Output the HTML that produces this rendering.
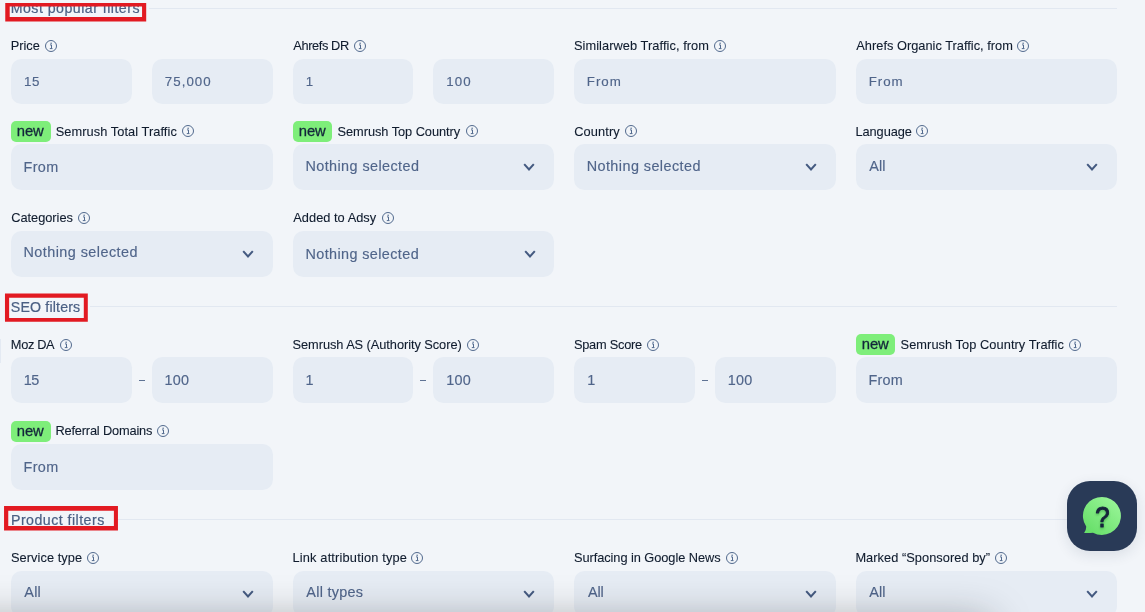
<!DOCTYPE html>
<html lang="en"><head><meta charset="utf-8"><title>Filters</title>
<style>
html,body{margin:0;padding:0;background:#f2f5f9}
html{overflow:hidden}
#root{width:1145px;height:612px;overflow:hidden;background:#f2f5f9;position:relative;font-family:"Liberation Sans",Arial,sans-serif}
span{position:absolute;line-height:20px;white-space:nowrap}
.lab{font-size:12.8px;color:#101c2e;-webkit-text-stroke:0.1px #101c2e}
.val{font-size:14.4px;color:#50658a;-webkit-text-stroke:0.15px #50658a}
.sm{font-size:13.3px}
.head{font-size:14.2px;color:#4b6084;-webkit-text-stroke:0.2px #4b6084}
.hc{clip-path:inset(6px 0 0 0)}
.newt{font-size:14.8px;color:#13263b;-webkit-text-stroke:0.3px #13263b}
.new{position:absolute;border-radius:5px;background:#7eee7a}
.box{position:absolute;background:#e6ecf4;border-radius:10.5px}
.red{position:absolute;box-sizing:border-box;border:4px solid #e21a22}
.line{position:absolute;height:1px;background:#e2e8f1}
.a{position:absolute;display:block}
.dash{position:absolute;width:6px;height:1.2px;background:#5f7394}
.fade{position:absolute;left:-80px;top:620px;width:1070px;height:60px;box-shadow:0 0 40px rgba(25,30,32,0.38)}
.help{position:absolute;left:1067px;top:481px;width:70px;height:70px;border-radius:23px;background:#293a57;box-shadow:0 4px 14px rgba(30,45,70,0.11)}
</style></head><body><div id="root">
<div class="line" style="left:149px;top:7.95px;width:968px"></div>
<svg class="a" style="left:44px;top:38.7px" width="14" height="14" viewBox="0 0 14 14"><circle cx="7" cy="7" r="5.5" fill="none" stroke="#526a8e" stroke-width="1"/><path d="M6 5.9h1.5v3.6M5.8 9.6h2.7" fill="none" stroke="#526a8e" stroke-width="1"/><circle cx="7.1" cy="4.2" r="0.75" fill="#526a8e"/></svg>
<svg class="a" style="left:353px;top:38.7px" width="14" height="14" viewBox="0 0 14 14"><circle cx="7" cy="7" r="5.5" fill="none" stroke="#526a8e" stroke-width="1"/><path d="M6 5.9h1.5v3.6M5.8 9.6h2.7" fill="none" stroke="#526a8e" stroke-width="1"/><circle cx="7.1" cy="4.2" r="0.75" fill="#526a8e"/></svg>
<svg class="a" style="left:713px;top:38.7px" width="14" height="14" viewBox="0 0 14 14"><circle cx="7" cy="7" r="5.5" fill="none" stroke="#526a8e" stroke-width="1"/><path d="M6 5.9h1.5v3.6M5.8 9.6h2.7" fill="none" stroke="#526a8e" stroke-width="1"/><circle cx="7.1" cy="4.2" r="0.75" fill="#526a8e"/></svg>
<svg class="a" style="left:1016px;top:38.7px" width="14" height="14" viewBox="0 0 14 14"><circle cx="7" cy="7" r="5.5" fill="none" stroke="#526a8e" stroke-width="1"/><path d="M6 5.9h1.5v3.6M5.8 9.6h2.7" fill="none" stroke="#526a8e" stroke-width="1"/><circle cx="7.1" cy="4.2" r="0.75" fill="#526a8e"/></svg>
<div class="box" style="left:11px;top:59px;width:121px;height:45px"></div>
<div class="box" style="left:152px;top:59px;width:121px;height:45px"></div>
<div class="box" style="left:292.75px;top:59px;width:120.5px;height:45px"></div>
<div class="box" style="left:433.25px;top:59px;width:121px;height:45px"></div>
<div class="box" style="left:574px;top:59px;width:262px;height:45px"></div>
<div class="box" style="left:855.75px;top:59px;width:261.5px;height:45px"></div>
<div class="new" style="left:11px;top:121px;width:40px;height:21px"></div>
<svg class="a" style="left:181px;top:124.25px" width="14" height="14" viewBox="0 0 14 14"><circle cx="7" cy="7" r="5.5" fill="none" stroke="#526a8e" stroke-width="1"/><path d="M6 5.9h1.5v3.6M5.8 9.6h2.7" fill="none" stroke="#526a8e" stroke-width="1"/><circle cx="7.1" cy="4.2" r="0.75" fill="#526a8e"/></svg>
<div class="new" style="left:293px;top:121px;width:39px;height:21px"></div>
<svg class="a" style="left:465px;top:124.25px" width="14" height="14" viewBox="0 0 14 14"><circle cx="7" cy="7" r="5.5" fill="none" stroke="#526a8e" stroke-width="1"/><path d="M6 5.9h1.5v3.6M5.8 9.6h2.7" fill="none" stroke="#526a8e" stroke-width="1"/><circle cx="7.1" cy="4.2" r="0.75" fill="#526a8e"/></svg>
<svg class="a" style="left:624px;top:124.25px" width="14" height="14" viewBox="0 0 14 14"><circle cx="7" cy="7" r="5.5" fill="none" stroke="#526a8e" stroke-width="1"/><path d="M6 5.9h1.5v3.6M5.8 9.6h2.7" fill="none" stroke="#526a8e" stroke-width="1"/><circle cx="7.1" cy="4.2" r="0.75" fill="#526a8e"/></svg>
<svg class="a" style="left:915px;top:124.25px" width="14" height="14" viewBox="0 0 14 14"><circle cx="7" cy="7" r="5.5" fill="none" stroke="#526a8e" stroke-width="1"/><path d="M6 5.9h1.5v3.6M5.8 9.6h2.7" fill="none" stroke="#526a8e" stroke-width="1"/><circle cx="7.1" cy="4.2" r="0.75" fill="#526a8e"/></svg>
<div class="box" style="left:11px;top:144px;width:262px;height:46px"></div>
<div class="box" style="left:292.75px;top:144px;width:261.5px;height:46px"></div>
<svg class="a" style="left:522px;top:162px" width="14" height="10" viewBox="-7 -5 14 10"><path d="M-4.8 -2.9L0 2.5L4.8 -2.9" fill="none" stroke="#445a80" stroke-width="2"/></svg>
<div class="box" style="left:574px;top:144px;width:262px;height:46px"></div>
<svg class="a" style="left:804.4px;top:162px" width="14" height="10" viewBox="-7 -5 14 10"><path d="M-4.8 -2.9L0 2.5L4.8 -2.9" fill="none" stroke="#445a80" stroke-width="2"/></svg>
<div class="box" style="left:855.75px;top:144px;width:261.5px;height:46px"></div>
<svg class="a" style="left:1085px;top:162px" width="14" height="10" viewBox="-7 -5 14 10"><path d="M-4.8 -2.9L0 2.5L4.8 -2.9" fill="none" stroke="#445a80" stroke-width="2"/></svg>
<svg class="a" style="left:77px;top:211px" width="14" height="14" viewBox="0 0 14 14"><circle cx="7" cy="7" r="5.5" fill="none" stroke="#526a8e" stroke-width="1"/><path d="M6 5.9h1.5v3.6M5.8 9.6h2.7" fill="none" stroke="#526a8e" stroke-width="1"/><circle cx="7.1" cy="4.2" r="0.75" fill="#526a8e"/></svg>
<svg class="a" style="left:381px;top:211px" width="14" height="14" viewBox="0 0 14 14"><circle cx="7" cy="7" r="5.5" fill="none" stroke="#526a8e" stroke-width="1"/><path d="M6 5.9h1.5v3.6M5.8 9.6h2.7" fill="none" stroke="#526a8e" stroke-width="1"/><circle cx="7.1" cy="4.2" r="0.75" fill="#526a8e"/></svg>
<div class="box" style="left:11px;top:231px;width:262px;height:46px"></div>
<svg class="a" style="left:241px;top:249px" width="14" height="10" viewBox="-7 -5 14 10"><path d="M-4.8 -2.9L0 2.5L4.8 -2.9" fill="none" stroke="#445a80" stroke-width="2"/></svg>
<div class="box" style="left:292.75px;top:231px;width:261.5px;height:46px"></div>
<svg class="a" style="left:522.5px;top:249px" width="14" height="10" viewBox="-7 -5 14 10"><path d="M-4.8 -2.9L0 2.5L4.8 -2.9" fill="none" stroke="#445a80" stroke-width="2"/></svg>
<div class="line" style="left:90px;top:305.9px;width:1027px"></div>
<svg class="a" style="left:59px;top:338px" width="14" height="14" viewBox="0 0 14 14"><circle cx="7" cy="7" r="5.5" fill="none" stroke="#526a8e" stroke-width="1"/><path d="M6 5.9h1.5v3.6M5.8 9.6h2.7" fill="none" stroke="#526a8e" stroke-width="1"/><circle cx="7.1" cy="4.2" r="0.75" fill="#526a8e"/></svg>
<svg class="a" style="left:466px;top:338px" width="14" height="14" viewBox="0 0 14 14"><circle cx="7" cy="7" r="5.5" fill="none" stroke="#526a8e" stroke-width="1"/><path d="M6 5.9h1.5v3.6M5.8 9.6h2.7" fill="none" stroke="#526a8e" stroke-width="1"/><circle cx="7.1" cy="4.2" r="0.75" fill="#526a8e"/></svg>
<svg class="a" style="left:646px;top:338px" width="14" height="14" viewBox="0 0 14 14"><circle cx="7" cy="7" r="5.5" fill="none" stroke="#526a8e" stroke-width="1"/><path d="M6 5.9h1.5v3.6M5.8 9.6h2.7" fill="none" stroke="#526a8e" stroke-width="1"/><circle cx="7.1" cy="4.2" r="0.75" fill="#526a8e"/></svg>
<div class="new" style="left:856px;top:334.25px;width:39px;height:21px"></div>
<svg class="a" style="left:1068px;top:338px" width="14" height="14" viewBox="0 0 14 14"><circle cx="7" cy="7" r="5.5" fill="none" stroke="#526a8e" stroke-width="1"/><path d="M6 5.9h1.5v3.6M5.8 9.6h2.7" fill="none" stroke="#526a8e" stroke-width="1"/><circle cx="7.1" cy="4.2" r="0.75" fill="#526a8e"/></svg>
<div class="box" style="left:11px;top:357px;width:121px;height:45.75px"></div>
<div class="box" style="left:152px;top:357px;width:121px;height:45.75px"></div>
<div class="dash" style="left:139.1px;top:379.5px"></div>
<div class="box" style="left:292.75px;top:357px;width:120.5px;height:45.75px"></div>
<div class="box" style="left:433.25px;top:357px;width:121px;height:45.75px"></div>
<div class="dash" style="left:420.1px;top:379.5px"></div>
<div class="box" style="left:574px;top:357px;width:121px;height:45.75px"></div>
<div class="box" style="left:715.25px;top:357px;width:121px;height:45.75px"></div>
<div class="dash" style="left:702px;top:379.5px"></div>
<div class="box" style="left:855.75px;top:357px;width:261.5px;height:45.75px"></div>
<div class="new" style="left:11px;top:421px;width:40px;height:21px"></div>
<svg class="a" style="left:156px;top:424px" width="14" height="14" viewBox="0 0 14 14"><circle cx="7" cy="7" r="5.5" fill="none" stroke="#526a8e" stroke-width="1"/><path d="M6 5.9h1.5v3.6M5.8 9.6h2.7" fill="none" stroke="#526a8e" stroke-width="1"/><circle cx="7.1" cy="4.2" r="0.75" fill="#526a8e"/></svg>
<div class="box" style="left:11px;top:444px;width:262px;height:46px"></div>
<div class="line" style="left:114px;top:518.95px;width:1003px"></div>
<svg class="a" style="left:86px;top:551px" width="14" height="14" viewBox="0 0 14 14"><circle cx="7" cy="7" r="5.5" fill="none" stroke="#526a8e" stroke-width="1"/><path d="M6 5.9h1.5v3.6M5.8 9.6h2.7" fill="none" stroke="#526a8e" stroke-width="1"/><circle cx="7.1" cy="4.2" r="0.75" fill="#526a8e"/></svg>
<svg class="a" style="left:410px;top:551px" width="14" height="14" viewBox="0 0 14 14"><circle cx="7" cy="7" r="5.5" fill="none" stroke="#526a8e" stroke-width="1"/><path d="M6 5.9h1.5v3.6M5.8 9.6h2.7" fill="none" stroke="#526a8e" stroke-width="1"/><circle cx="7.1" cy="4.2" r="0.75" fill="#526a8e"/></svg>
<svg class="a" style="left:725px;top:551px" width="14" height="14" viewBox="0 0 14 14"><circle cx="7" cy="7" r="5.5" fill="none" stroke="#526a8e" stroke-width="1"/><path d="M6 5.9h1.5v3.6M5.8 9.6h2.7" fill="none" stroke="#526a8e" stroke-width="1"/><circle cx="7.1" cy="4.2" r="0.75" fill="#526a8e"/></svg>
<svg class="a" style="left:994.25px;top:551px" width="14" height="14" viewBox="0 0 14 14"><circle cx="7" cy="7" r="5.5" fill="none" stroke="#526a8e" stroke-width="1"/><path d="M6 5.9h1.5v3.6M5.8 9.6h2.7" fill="none" stroke="#526a8e" stroke-width="1"/><circle cx="7.1" cy="4.2" r="0.75" fill="#526a8e"/></svg>
<div class="box" style="left:11px;top:571px;width:262px;height:46px"></div>
<svg class="a" style="left:241.4px;top:589px" width="14" height="10" viewBox="-7 -5 14 10"><path d="M-4.8 -2.9L0 2.5L4.8 -2.9" fill="none" stroke="#445a80" stroke-width="2"/></svg>
<div class="box" style="left:292.75px;top:571px;width:261.5px;height:46px"></div>
<svg class="a" style="left:522.25px;top:589px" width="14" height="10" viewBox="-7 -5 14 10"><path d="M-4.8 -2.9L0 2.5L4.8 -2.9" fill="none" stroke="#445a80" stroke-width="2"/></svg>
<div class="box" style="left:574px;top:571px;width:262px;height:46px"></div>
<svg class="a" style="left:804.4px;top:589px" width="14" height="10" viewBox="-7 -5 14 10"><path d="M-4.8 -2.9L0 2.5L4.8 -2.9" fill="none" stroke="#445a80" stroke-width="2"/></svg>
<div class="box" style="left:855.75px;top:571px;width:261.5px;height:46px"></div>
<svg class="a" style="left:1085px;top:589px" width="14" height="10" viewBox="-7 -5 14 10"><path d="M-4.8 -2.9L0 2.5L4.8 -2.9" fill="none" stroke="#445a80" stroke-width="2"/></svg>
<div class="a" style="left:0;top:339px;width:1px;height:24px;background:#e4eaf3"></div>
<span class="head hc" style="left:10.71px;top:-2px;letter-spacing:0.471px">Most popular filters</span>
<span class="lab" style="left:10.87px;top:36px;letter-spacing:-0.066px">Price</span>
<span class="lab" style="left:293.30px;top:36px;letter-spacing:-0.390px">Ahrefs DR</span>
<span class="lab" style="left:573.95px;top:36px;letter-spacing:0.068px">Similarweb Traffic, from</span>
<span class="lab" style="left:856.30px;top:36px;letter-spacing:0.012px">Ahrefs Organic Traffic, from</span>
<span class="val sm" style="left:23.94px;top:72px;letter-spacing:0.569px">15</span>
<span class="val sm" style="left:164.87px;top:72px;letter-spacing:1.026px">75,000</span>
<span class="val sm" style="left:305.73px;top:72px;letter-spacing:0.000px">1</span>
<span class="val sm" style="left:446.27px;top:72px;letter-spacing:1.040px">100</span>
<span class="val sm" style="left:586.78px;top:72px;letter-spacing:1.024px">From</span>
<span class="val sm" style="left:868.78px;top:72px;letter-spacing:0.918px">From</span>
<span class="newt" style="left:16.73px;top:121px;letter-spacing:-0.062px">new</span>
<span class="lab" style="left:55.70px;top:122px;letter-spacing:0.068px">Semrush Total Traffic</span>
<span class="newt" style="left:298.73px;top:121px;letter-spacing:-0.062px">new</span>
<span class="lab" style="left:337.55px;top:122px;letter-spacing:-0.049px">Semrush Top Country</span>
<span class="lab" style="left:574.18px;top:122px;letter-spacing:0.132px">Country</span>
<span class="lab" style="left:855.41px;top:122px;letter-spacing:-0.058px">Language</span>
<span class="val" style="left:23.46px;top:157px;letter-spacing:0.404px">From</span>
<span class="val" style="left:305.45px;top:156px;letter-spacing:0.418px">Nothing selected</span>
<span class="val" style="left:586.67px;top:156px;letter-spacing:0.438px">Nothing selected</span>
<span class="val" style="left:869.30px;top:156px;letter-spacing:0.065px">All</span>
<span class="lab" style="left:11.18px;top:208px;letter-spacing:-0.012px">Categories</span>
<span class="lab" style="left:293.30px;top:208px;letter-spacing:0.030px">Added to Adsy</span>
<span class="val" style="left:23.46px;top:242px;letter-spacing:0.454px">Nothing selected</span>
<span class="val" style="left:305.45px;top:244px;letter-spacing:0.400px">Nothing selected</span>
<span class="head" style="left:10.82px;top:297px;letter-spacing:0.159px">SEO filters</span>
<span class="lab" style="left:10.84px;top:335px;letter-spacing:-0.344px">Moz DA</span>
<span class="lab" style="left:292.55px;top:335px;letter-spacing:-0.057px">Semrush AS (Authority Score)</span>
<span class="lab" style="left:573.95px;top:335px;letter-spacing:-0.245px">Spam Score</span>
<span class="newt" style="left:861.73px;top:334px;letter-spacing:-0.062px">new</span>
<span class="lab" style="left:900.55px;top:335px;letter-spacing:0.064px">Semrush Top Country Traffic</span>
<span class="val" style="left:23.76px;top:370px;letter-spacing:-0.485px">15</span>
<span class="val" style="left:164.53px;top:370px;letter-spacing:0.275px">100</span>
<span class="val" style="left:305.55px;top:370px;letter-spacing:0.000px">1</span>
<span class="val" style="left:446.32px;top:370px;letter-spacing:0.216px">100</span>
<span class="val" style="left:587.33px;top:370px;letter-spacing:0.000px">1</span>
<span class="val" style="left:727.78px;top:370px;letter-spacing:0.238px">100</span>
<span class="val" style="left:868.46px;top:370px;letter-spacing:0.238px">From</span>
<span class="newt" style="left:16.73px;top:421px;letter-spacing:-0.062px">new</span>
<span class="lab" style="left:55.41px;top:421px;letter-spacing:-0.172px">Referral Domains</span>
<span class="val" style="left:23.46px;top:457px;letter-spacing:0.404px">From</span>
<span class="head" style="left:10.98px;top:510px;letter-spacing:0.467px">Product filters</span>
<span class="lab" style="left:10.95px;top:548px;letter-spacing:0.072px">Service type</span>
<span class="lab" style="left:292.41px;top:548px;letter-spacing:0.180px">Link attribution type</span>
<span class="lab" style="left:573.95px;top:548px;letter-spacing:-0.056px">Surfacing in Google News</span>
<span class="lab" style="left:855.41px;top:548px;letter-spacing:0.045px">Marked “Sponsored by”</span>
<span class="val" style="left:24.26px;top:582px;letter-spacing:0.280px">All</span>
<span class="val" style="left:306.30px;top:582px;letter-spacing:0.281px">All types</span>
<span class="val" style="left:587.91px;top:582px;letter-spacing:-0.058px">All</span>
<span class="val" style="left:869.30px;top:582px;letter-spacing:0.065px">All</span>
<svg class="a" style="left:0;top:0" width="1145" height="612" viewBox="0 0 1145 612"><path fill="#e21a22" fill-rule="evenodd" d="M5.26 2.97H146.2V21.4H5.26ZM9.7 6.4V17H142.06V6.4ZM4.97 293.47H87.8V321.85H4.97ZM9.13 297.75V317.94H83.8V297.75ZM4.04 506.02H117.95V530.6H4.04ZM8.26 510.7V526.1H113.9V510.7Z"/></svg>
<div class="fade"></div>
<div class="help"><svg width="70" height="70" viewBox="0 0 70 70" style="display:block"><defs><linearGradient id="g" x1="0.15" y1="0.9" x2="0.85" y2="0.1"><stop offset="0" stop-color="#68df6a"/><stop offset="1" stop-color="#97f496"/></linearGradient><filter id="ds" x="-30%" y="-30%" width="160%" height="170%"><feDropShadow dx="0" dy="1.5" stdDeviation="1.3" flood-color="#0a5a14" flood-opacity="0.35"/></filter></defs><path d="M17.1 52 Q19.3 49 19.2 45.6 A19 19 0 1 1 26 51.7 Q21.5 52.3 17.1 52 Z" fill="url(#g)"/><text transform="translate(35.4 45.5) scale(0.86 0.99)" x="0" y="0" text-anchor="middle" font-family="Liberation Sans,Arial,sans-serif" font-size="30" fill="#15223b" stroke="#15223b" stroke-width="1.1" stroke-linejoin="round" filter="url(#ds)">?</text></svg></div>
</div></body></html>
